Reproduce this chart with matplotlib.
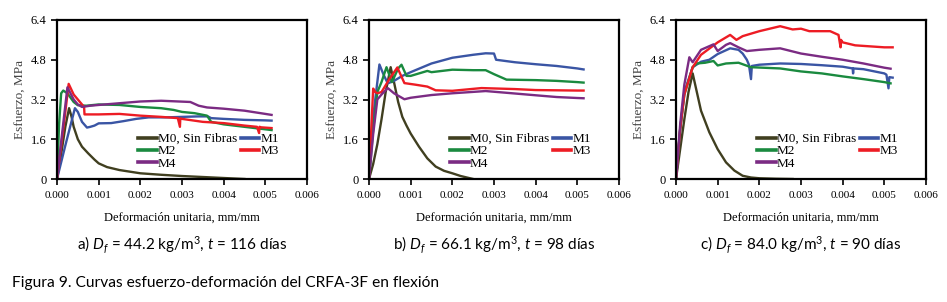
import numpy as np
from matplotlib import pyplot as plt

plt.rcParams['font.family'] = ['Liberation Serif', 'DejaVu Serif']
plt.rcParams['mathtext.fontset'] = 'custom'
plt.rcParams['mathtext.rm'] = 'Lato'
plt.rcParams['mathtext.it'] = 'Lato:italic'

series = ['M0, Sin Fibras', 'M1', 'M2', 'M3', 'M4']
colors = ['#403f20', '#3a55a4', '#1a8a3f', '#ed1c24', '#7b2b83']
xticks = [0.000, 0.001, 0.002, 0.003, 0.004, 0.005, 0.006]
yticks = [0, 1.6, 3.2, 4.8, 6.4]
ytick_labels = ['0', '1.6', '3.2', '4.8', '6.4']
captions = [r'a) $D_f$ = 44.2 kg/m$^3$, $t$ = 116 días',
            r'b) $D_f$ = 66.1 kg/m$^3$, $t$ = 98 días',
            r'c) $D_f$ = 84.0 kg/m$^3$, $t$ = 90 días']

# panel a
a_m0_x = [0, 0.0001, 0.0002, 0.00029, 0.00035, 0.0004, 0.0005, 0.0006, 0.00075, 0.0009,
          0.001, 0.0012, 0.0015, 0.002, 0.0025, 0.003, 0.0035, 0.004, 0.0045]
a_m0_y = [0, 1.0, 2.1, 2.85, 2.5, 2.1, 1.6, 1.3, 1.03, 0.78,
          0.63, 0.48, 0.36, 0.23, 0.17, 0.12, 0.08, 0.04, 0.0]
a_m1_x = [0, 0.0002, 0.00043, 0.0005, 0.0006, 0.00072, 0.0008, 0.0009, 0.001, 0.0013, 0.0016,
          0.0019, 0.0022, 0.0026, 0.003, 0.0034, 0.00362, 0.0037, 0.004, 0.0045, 0.005, 0.00515]
a_m1_y = [0, 1.35, 2.85, 2.7, 2.3, 2.07, 2.1, 2.15, 2.24, 2.25, 2.33,
          2.42, 2.48, 2.48, 2.5, 2.52, 2.52, 2.45, 2.42, 2.38, 2.36, 2.35]
a_m2_x = [0, 0.00005, 0.0001, 0.00015, 0.00025, 0.0004, 0.0005, 0.0007, 0.001, 0.0015, 0.002,
          0.0025, 0.0028, 0.003, 0.0033, 0.0036, 0.0037, 0.004, 0.0045, 0.005, 0.00515]
a_m2_y = [0, 2.2, 3.45, 3.56, 3.45, 3.1, 2.97, 2.95, 3.0, 2.98, 2.9,
          2.85, 2.78, 2.7, 2.65, 2.55, 2.3, 2.2, 2.1, 2.0, 1.97]
a_m3_x = [0, 0.00015, 0.00028, 0.0004, 0.0006, 0.00065, 0.00066, 0.001, 0.0015, 0.002, 0.0025,
          0.0029, 0.00295, 0.00296, 0.003, 0.0035, 0.004, 0.0045, 0.0048, 0.00485, 0.00486,
          0.0049, 0.00515]
a_m3_y = [0, 2.0, 3.83, 3.4, 3.0, 2.9, 2.6, 2.6, 2.62, 2.55, 2.5,
          2.45, 2.1, 2.44, 2.42, 2.3, 2.25, 2.15, 2.1, 1.85, 2.1,
          2.08, 2.05]
a_m4_x = [0, 0.0001, 0.00025, 0.0004, 0.0005, 0.0006, 0.0008, 0.001, 0.0015, 0.002, 0.0025,
          0.0032, 0.0034, 0.0036, 0.004, 0.0045, 0.005, 0.00515]
a_m4_y = [0, 1.5, 3.69, 3.2, 3.0, 2.9, 2.95, 2.98, 3.05, 3.12, 3.15,
          3.1, 2.95, 2.88, 2.83, 2.75, 2.62, 2.58]

# panel b
b_m0_x = [0, 0.0001, 0.0002, 0.0003, 0.0004, 0.00052, 0.0006, 0.0007, 0.0008, 0.0009, 0.001,
          0.0012, 0.0014, 0.0016, 0.0018, 0.002, 0.0022, 0.0025]
b_m0_y = [0, 0.6, 1.4, 2.4, 3.5, 4.5, 3.9, 3.1, 2.5, 2.15, 1.83,
          1.3, 0.83, 0.5, 0.33, 0.23, 0.12, 0.0]
b_m1_x = [0, 0.0001, 0.00025, 0.00035, 0.00045, 0.0006, 0.0008, 0.001, 0.0015, 0.002, 0.0025,
          0.0028, 0.003, 0.00305, 0.0035, 0.004, 0.0045, 0.005, 0.00515]
b_m1_y = [0, 2.5, 4.61, 4.2, 3.85, 3.95, 4.15, 4.3, 4.65, 4.88, 5.0,
          5.06, 5.05, 4.8, 4.7, 4.62, 4.55, 4.45, 4.41]
b_m2_x = [0, 0.0001, 0.0002, 0.0003, 0.00042, 0.00055, 0.0007, 0.00078, 0.0009, 0.001, 0.0012,
          0.0014, 0.0015, 0.002, 0.0025, 0.0028, 0.003, 0.0033, 0.004, 0.0045, 0.005, 0.00515]
b_m2_y = [0, 2.0, 3.5, 3.9, 4.5, 3.9, 4.45, 4.6, 4.15, 4.15, 4.25,
          4.35, 4.3, 4.4, 4.38, 4.38, 4.22, 4.0, 3.98, 3.95, 3.9, 3.88]
b_m3_x = [0, 0.0001, 0.00015, 0.0002, 0.0003, 0.0005, 0.00068, 0.00085, 0.0011, 0.0014, 0.0016,
          0.002, 0.0027, 0.0035, 0.004, 0.005, 0.00515]
b_m3_y = [0, 3.64, 3.5, 3.45, 3.5, 4.05, 4.49, 3.86, 3.8, 3.72, 3.57,
          3.55, 3.66, 3.62, 3.58, 3.56, 3.56]
b_m4_x = [0, 0.0001, 0.0002, 0.0003, 0.00045, 0.0006, 0.00085, 0.001, 0.0015, 0.002, 0.0028,
          0.0033, 0.004, 0.0045, 0.005, 0.00515]
b_m4_y = [0, 1.8, 3.2, 3.4, 3.66, 3.45, 3.21, 3.27, 3.38, 3.45, 3.54,
          3.47, 3.37, 3.3, 3.26, 3.25]

# panel c
c_m0_x = [0, 0.0001, 0.0002, 0.0003, 0.0004, 0.0005, 0.0006, 0.0008, 0.001, 0.0012, 0.0014,
          0.0016, 0.0018, 0.002, 0.0024, 0.0028]
c_m0_y = [0, 1.2, 2.4, 3.5, 4.25, 3.5, 2.75, 1.88, 1.2, 0.67, 0.34,
          0.13, 0.06, 0.03, 0.01, 0.0]
c_m1_x = [0, 0.0001, 0.0002, 0.0004, 0.0006, 0.0008, 0.001, 0.0013, 0.0015, 0.0016, 0.0017,
          0.00175, 0.0018, 0.00182, 0.002, 0.0025, 0.003, 0.0035, 0.004, 0.00424, 0.00425,
          0.00426, 0.0045, 0.005, 0.00505, 0.0051, 0.00512, 0.0052]
c_m1_y = [0, 2.0, 3.5, 4.5, 4.72, 4.8, 5.03, 5.26, 5.2, 5.05, 4.8,
          4.6, 4.02, 4.55, 4.6, 4.65, 4.63, 4.58, 4.52, 4.45, 4.25,
          4.45, 4.42, 4.25, 4.2, 3.65, 4.1, 4.08]
c_m2_x = [0, 0.0001, 0.0002, 0.0004, 0.0005, 0.0007, 0.0009, 0.001, 0.0012, 0.0015, 0.0018,
          0.0025, 0.003, 0.0035, 0.004, 0.0045, 0.005, 0.00515]
c_m2_y = [0, 2.0, 3.4, 4.5, 4.65, 4.68, 4.75, 4.57, 4.65, 4.68, 4.5,
          4.45, 4.33, 4.25, 4.13, 4.02, 3.9, 3.85]
c_m3_x = [0, 0.0001, 0.0002, 0.0004, 0.0006, 0.0008, 0.001, 0.0013, 0.00145, 0.0016, 0.002,
          0.0025, 0.0028, 0.003, 0.0032, 0.0037, 0.0039, 0.00395, 0.00396, 0.004, 0.0043,
          0.005, 0.0052]
c_m3_y = [0, 2.0, 3.4, 4.5, 5.0, 5.25, 5.5, 5.8, 5.6, 5.75, 5.95,
          6.15, 6.02, 6.05, 5.95, 5.95, 5.8, 5.3, 5.6, 5.5, 5.38,
          5.3, 5.3]
c_m4_x = [0, 0.0001, 0.0002, 0.00032, 0.0004, 0.0006, 0.0009, 0.001, 0.0012, 0.0013, 0.0015,
          0.0017, 0.002, 0.0025, 0.003, 0.0035, 0.004, 0.0045, 0.005, 0.00515]
c_m4_y = [0, 2.2, 3.8, 4.9, 4.7, 5.2, 5.42, 5.15, 5.4, 5.47, 5.3,
          5.15, 5.2, 5.26, 5.05, 4.92, 4.8, 4.65, 4.48, 4.44]

panels = [
    [(a_m0_x, a_m0_y), (a_m1_x, a_m1_y), (a_m2_x, a_m2_y), (a_m3_x, a_m3_y), (a_m4_x, a_m4_y)],
    [(b_m0_x, b_m0_y), (b_m1_x, b_m1_y), (b_m2_x, b_m2_y), (b_m3_x, b_m3_y), (b_m4_x, b_m4_y)],
    [(c_m0_x, c_m0_y), (c_m1_x, c_m1_y), (c_m2_x, c_m2_y), (c_m3_x, c_m3_y), (c_m4_x, c_m4_y)],
]

fig = plt.figure(figsize=(9.47, 3.02), dpi=100)
lefts = [57 / 947, 369 / 947, 676 / 947]
width = 250 / 947
bottom = 1 - 179 / 302
height = 159 / 302

for k, data in enumerate(panels):
    ax = fig.add_axes([lefts[k], bottom, width, height])
    lines = []
    for (x, y), name, col in zip(data, series, colors):
        ln, = ax.plot(x, y, color=col, lw=1.7, label=name)
        lines.append(ln)
    ax.set_xlim(0, 0.006)
    ax.set_ylim(0, 6.4)
    ax.set_xticks(xticks)
    ax.set_xticklabels(['%.3f' % v for v in xticks], fontsize=8)
    ax.set_yticks(yticks)
    ax.set_yticklabels(ytick_labels, fontsize=9)
    ax.tick_params(direction='out', length=4, width=1.2, top=False, right=False)
    ax.tick_params(axis='x', pad=5)
    for s in ax.spines.values():
        s.set_linewidth(1.6)
    ax.set_ylabel('Esfuerzo, MPa', fontsize=9.5, color='#444444', labelpad=3)
    ax.set_xlabel('Deformación unitaria, mm/mm', fontsize=9, labelpad=8)
    # legend is filled column by column, so reorder to get M0 M1 / M2 M3 / M4
    order = [0, 2, 4, 1, 3]
    leg = ax.legend([lines[i] for i in order], [series[i] for i in order], ncol=2,
                    loc='upper left', bbox_to_anchor=(0.325, 0.29), frameon=False,
                    fontsize=9.5, handlelength=1.4, handletextpad=0.1, columnspacing=0.25,
                    labelspacing=0.0, borderaxespad=0, borderpad=0)
    for h in leg.get_lines():
        h.set_linewidth(2.6)
    cx = lefts[k] + width / 2
    fig.text(cx, 1 - 245 / 302, captions[k], ha='center', va='center', fontsize=11,
             family=['Lato', 'DejaVu Sans'])

fig.text(12 / 947, 1 - 283 / 302, 'Figura 9. Curvas esfuerzo-deformación del CRFA-3F en flexión',
         ha='left', va='center', fontsize=11.2, family=['Lato', 'DejaVu Sans'])

fig.savefig('out.png', dpi=100)
